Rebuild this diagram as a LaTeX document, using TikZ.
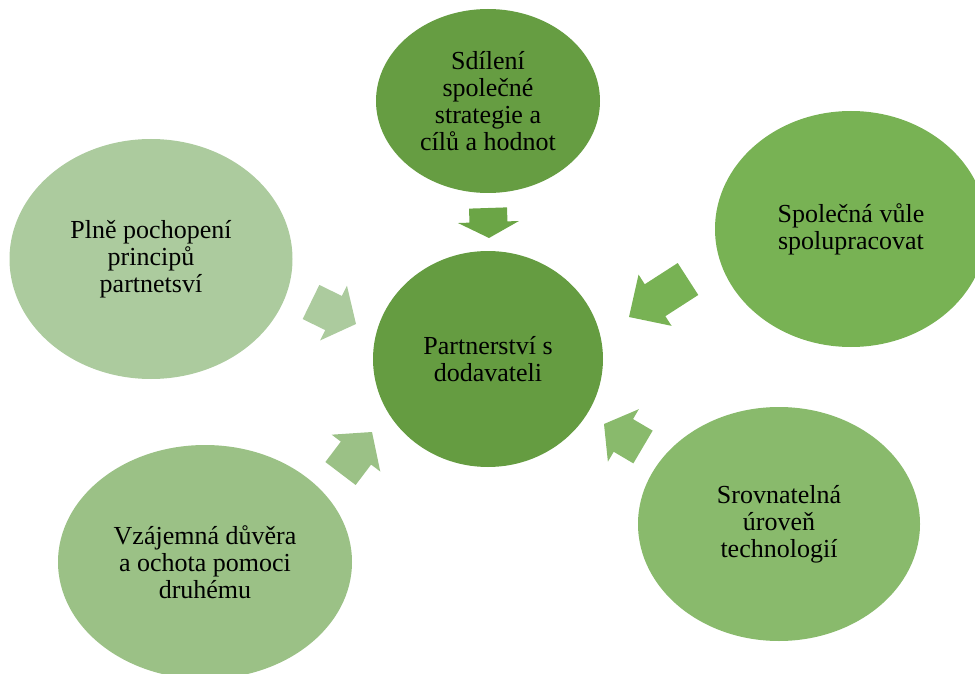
\documentclass[tikz,border=0pt]{standalone}
\usepackage{fontspec}
\setmainfont{Liberation Serif}
\usetikzlibrary{calc,shapes.geometric}
\definecolor{cCenter}{RGB}{101,156,65}
\definecolor{cTop}{RGB}{102,157,66}
\definecolor{cTopArr}{RGB}{107,165,70}
\definecolor{cRight}{RGB}{120,178,84}
\definecolor{cBR}{RGB}{137,186,108}
\definecolor{cBL}{RGB}{155,193,134}
\definecolor{cLeft}{RGB}{172,203,158}
\newcommand\blockarr[4]{% tail, tip, head length, colour
  \coordinate (#1b) at ($(#2)!#3pt!(#1)$);
  \fill[#4] ($(#1)!19pt!90:(#2)$) -- ($(#1b)!19pt!90:(#2)$) -- ($(#1b)!30.5pt!90:(#2)$)
    -- (#2) -- ($(#1b)!30.5pt!-90:(#2)$) -- ($(#1b)!19pt!-90:(#2)$) -- ($(#1)!19pt!-90:(#2)$) -- cycle;
}
\begin{document}
\begin{tikzpicture}[x=1pt,y=-1pt,
  bubble/.style={ellipse, inner sep=0pt, align=center, text=black,
    font=\fontsize{26}{27}\selectfont}]
\useasboundingbox (0,0) rectangle (975,674);
\clip (0,0) rectangle (975,674);
% circles
\node[bubble, fill=cCenter, minimum width=230, minimum height=216] (center) at (488,359) {Partnerství s\\dodavateli};
\node[bubble, fill=cTop, minimum width=224, minimum height=184] (top) at (488,101) {Sdílení\\společné\\strategie a\\cílů a hodnot};
\node[bubble, fill=cRight, minimum width=272, minimum height=236] (right) at (851,229) {Společná vůle\\spolupracovat};
\node[bubble, fill=cBR, minimum width=282, minimum height=234] (bright) at (779,524) {Srovnatelná\\úroveň\\technologií};
\node[bubble, fill=cBL, minimum width=294, minimum height=234] (bleft) at (205,562) {Vzájemná důvěra\\a ochota pomoci\\druhému};
\node[bubble, fill=cLeft, minimum width=283, minimum height=240] (left) at (151,259) {Plně pochopení\\principů\\partnetsví};
% arrows
\coordinate (aT) at (488,208);  \coordinate (aTt) at (489,238);
\coordinate (aR) at (688,279);  \coordinate (aRt) at (629,317);
\coordinate (aL) at (311,302);  \coordinate (aLt) at (356,324);
\coordinate (aBL) at (340.5,473.5); \coordinate (aBLt) at (372,432);
\coordinate (aBR) at (643,447); \coordinate (aBRt) at (604,424);
\blockarr{aT}{aTt}{16}{cTopArr}
\blockarr{aR}{aRt}{31}{cRight}
\blockarr{aL}{aLt}{25}{cLeft}
\blockarr{aBL}{aBLt}{26.5}{cBL}
\blockarr{aBR}{aBRt}{22.5}{cBR}
\end{tikzpicture}
\end{document}
